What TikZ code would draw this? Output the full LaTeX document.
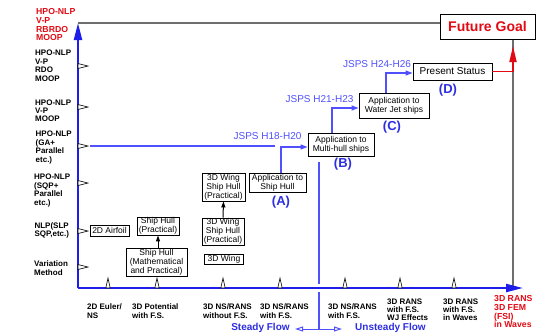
\documentclass[tikz,border=0pt]{standalone}
\usepackage{fontspec}
\setmainfont{Liberation Sans}
\usetikzlibrary{arrows.meta}
\definecolor{axblue}{RGB}{30,30,235}
\definecolor{lblue}{RGB}{80,80,255}
\definecolor{tagblue}{RGB}{45,45,225}
\definecolor{dred}{RGB}{225,10,20}
\definecolor{gline}{RGB}{110,110,110}
\begin{document}
\begin{tikzpicture}[x=1pt,y=-1pt,
  lab/.style={anchor=west,align=left,inner sep=0pt,font=\fontsize{8}{8.4}\selectfont\bfseries},
  redlab/.style={lab,text=dred,font=\fontsize{8.7}{8.6}\selectfont\bfseries},
  box/.style={draw,line width=0.9pt,fill=white,align=center,inner sep=0pt,font=\fontsize{8.5}{9}\selectfont},
  jsps/.style={text=lblue,font=\fontsize{10}{11}\selectfont,inner sep=0pt},
  tag/.style={text=tagblue,font=\fontsize{13}{13}\selectfont\bfseries,inner sep=0pt},
  flowlab/.style={text=tagblue,font=\fontsize{10}{11}\selectfont\bfseries,inner sep=0pt},
  axis/.style={axblue,line width=2.2pt,-{Triangle[length=17pt,width=8pt]}},
  conn/.style={lblue,line width=1.2pt,-{Triangle[length=7pt,width=5pt]}},
  bconn/.style={black,line width=1pt,-{Triangle[length=6pt,width=4pt]}},
  tickmark/.style={draw=black,fill=white,line width=0.6pt},
  oarrow/.style={lblue,line width=1pt,-{Triangle[open,length=8pt,width=5pt,fill=white]}}
]
\useasboundingbox (0,0) rectangle (539,333);

% coordinates
\coordinate (o) at (78,288);
\coordinate (ytop) at (78,23);
\coordinate (xend) at (523,288);
\coordinate (gbot) at (513,288);
\coordinate (redtip) at (513,46);
\coordinate (gastart) at (90,146);
\coordinate (gaend) at (275,146);
\coordinate (divtop) at (319,162);
\coordinate (divmid1) at (319,284);
\coordinate (divmid2) at (319,292);
\coordinate (divbot) at (319,329);
\coordinate (sfend) at (295,329);
\coordinate (ufend) at (342,329);

% Future goal box
\node[draw,line width=1pt,fill=white,minimum width=95pt,minimum height=25pt,inner sep=0pt,text=dred,font=\fontsize{14}{14}\selectfont\bfseries] (goal) at (487.5,26.5) {Future Goal};
\coordinate (gtop) at ([xshift=25.5pt]goal.south);

% gray lines
\draw[gline,line width=1.4pt] (ytop) -- (ytop -| goal.west);
\draw[gline,line width=1.4pt] (gtop) -- (gbot);

% divider
\draw[lblue,line width=1.1pt] (divtop) -- (divmid1);
\draw[lblue,line width=1.1pt] (divmid2) -- (divbot);
\draw[oarrow] (divbot) -- (sfend);
\draw[oarrow] (divbot) -- (ufend);

% GA level line
\draw[lblue,line width=1.2pt] (gastart) -- (gaend);

% axes
\draw[axis] (o) -- (ytop);
\draw[axis] (o) -- (xend);

% y ticks
\foreach \yy in {66,107,146,183,231,267}
  \draw[tickmark] (78,\yy-2.5) -- (88,\yy) -- (78,\yy+2.5) -- cycle;
% x ticks
\foreach \xx in {108,157,223,280,345,400,454}
  \draw[tickmark] (\xx-2.2,288) -- (\xx,278) -- (\xx+2.2,288) -- cycle;

% y labels
\node[redlab] (y7) at (36,24.8) {HPO-NLP\\V-P\\RBRDO\\MOOP};
\node[lab] (y6) at (35,65.8) {HPO-NLP\\V-P\\RDO\\MOOP};
\node[lab] (y5) at (35,110.8) {HPO-NLP\\V-P\\MOOP};
\node[lab] (y4) at (35.5,147.6) {HPO-NLP\\(GA+\\Parallel\\etc.)};
\node[lab] (y3) at (34,190.5) {HPO-NLP\\(SQP+\\Parallel\\etc.)};
\node[lab] (y2) at (34.3,230.5) {NLP(SLP\\SQP,etc.)};
\node[lab] (y1) at (34,268.3) {Variation\\Method};

% x labels
\node[lab] (x1) at (87,311) {2D Euler/\\NS};
\node[lab] (x2) at (132,311) {3D Potential\\with F.S.};
\node[lab] (x3) at (203,311) {3D NS/RANS\\without F.S.};
\node[lab] (x4) at (260,311) {3D NS/RANS\\with F.S.};
\node[lab] (x5) at (328,311) {3D NS/RANS\\with F.S.};
\node[lab] (x6) at (387,309.8) {3D RANS\\with F.S.\\WJ Effects};
\node[lab] (x7) at (443,309.8) {3D RANS\\with F.S.\\in Waves};
\node[redlab] (x8) at (494,311.8) {3D RANS\\3D FEM\\(FSI)\\in Waves};

% flow labels
\node[flowlab] (sf) at (260.5,328) {Steady Flow};
\node[flowlab,anchor=west] (uf) at (355,328) {Unsteady Flow};

% boxes
\node[box,minimum width=39pt,minimum height=11pt] (airfoil) at (109.5,230.5) {2D Airfoil};
\node[box,minimum width=42pt,minimum height=18pt] (shp) at (158,226) {Ship Hull\\(Practical)};
\node[box,minimum width=61pt,minimum height=28pt] (shm) at (156.5,262) {Ship Hull\\(Mathematical\\and Practical)};
\node[box,minimum width=43pt,minimum height=28pt] (wing1) at (223.5,187) {3D Wing\\Ship Hull\\(Practical)};
\node[box,minimum width=42pt,minimum height=27pt] (wing2) at (223,231.5) {3D Wing\\Ship Hull\\(Practical)};
\node[box,minimum width=39pt,minimum height=10pt] (wing3) at (224,259) {3D Wing};
\node[box,minimum width=57pt,minimum height=19pt] (appA) at (277.5,182.5) {Application to\\Ship Hull};
\node[box,minimum width=66pt,minimum height=23pt] (appB) at (341,144.5) {Application to\\Multi-hull ships};
\node[box,minimum width=70pt,minimum height=25pt] (appC) at (394,105.5) {Application to\\Water Jet ships};
\node[box,minimum width=79pt,minimum height=17pt,font=\fontsize{10}{11}\selectfont] (pres) at (452.5,71.5) {Present Status};

% tags
\node[tag] (tA) at (281,202) {(A)};
\node[tag] (tB) at (343,164) {(B)};
\node[tag] (tC) at (392,127) {(C)};
\node[tag] (tD) at (448,90) {(D)};

% JSPS labels
\node[jsps] (j1) at (267.5,136) {JSPS H18-H20};
\node[jsps] (j2) at (319.5,99) {JSPS H21-H23};
\node[jsps] (j3) at (377,64) {JSPS H24-H26};

% black arrows
\draw[bconn] (shm.north -| shp.south) -- (shp.south);
\draw[bconn] (wing2.north) -- (wing1.south);

% blue elbow connectors
\draw[conn] ([xshift=3.5pt]appA.north) |- ([yshift=-2.5pt]appB.west);
\draw[conn] ([xshift=-9pt]appB.north) |- ([yshift=-2.5pt]appC.west);
\draw[conn] ([xshift=-8pt]appC.north) |- ([yshift=-1.5pt]pres.west);

% red connector
\draw[dred,line width=1.8pt,-{Triangle[length=16pt,width=7pt]}] (pres.east) -| (redtip);
\end{tikzpicture}
\end{document}
